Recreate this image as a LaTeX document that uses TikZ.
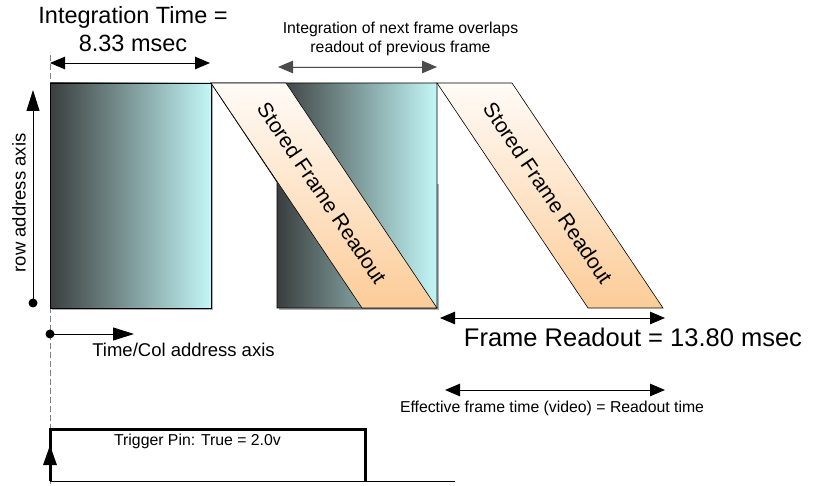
\documentclass[tikz,border=0pt]{standalone}
\usepackage{fontspec}
\setmainfont{Liberation Sans}
\usetikzlibrary{arrows.meta}
\definecolor{gdark}{RGB}{58,62,62}
\definecolor{gcyan}{RGB}{195,247,247}
\definecolor{ptop}{RGB}{255,251,247}
\definecolor{pbot}{RGB}{252,204,152}
\definecolor{dashgray}{RGB}{130,130,130}
\definecolor{shadowgray}{RGB}{175,175,175}
\tikzset{
  txt/.style={inner sep=0pt, outer sep=0pt, align=center},
  dimarrow/.style={line width=0.9pt, {Triangle[length=15pt,width=12.5pt]}-{Triangle[length=15pt,width=12.5pt]}},
  axisarrow/.style={line width=0.9pt, -{Triangle[length=21pt,width=13pt]}},
  blockline/.style={draw=black, line width=0.8pt},
  bandline/.style={draw=black, line width=0.6pt},
  pulse/.style={line width=3pt, line join=miter},
}
\begin{document}
\begin{tikzpicture}[x=1pt,y=-1pt]
\useasboundingbox (0,0) rectangle (817,486);

% dashed time-zero line
\coordinate (dz0) at (50,55);
\coordinate (dz1) at (50,486);
\draw[dashgray, line width=0.8pt, dash pattern=on 6pt off 3pt] (dz0) -- (dz1);

% soft shadows of blocks
\fill[shadowgray] (52,85) rectangle (213,310);
\fill[shadowgray] (279,184) rectangle (439,310);
\fill[shadowgray] (364,310) -- (439,310) -- (439,308) -- (364,308) -- cycle;

% integration block 1
\shade[left color=gdark, right color=gcyan] (50,83) rectangle (211,308);
\draw[blockline] (50,83) rectangle (211,308);

% integration block 2 (partly hidden)
\begin{scope}
  \clip (277,182) -- (211,83) -- (437,83) -- (437,308) -- (277,308) -- cycle;
  \shade[left color=gdark, right color=gcyan] (277,83) rectangle (437,308);
\end{scope}
\draw[blockline] (277,182) -- (211,83) -- (437,83) -- (437,308) -- (277,308) -- cycle;

% readout band 1
\shade[top color=ptop, bottom color=pbot] (211,83) -- (286,83) -- (437,308) -- (362,308) -- cycle;
\draw[bandline] (211,83) -- (286,83) -- (437,308) -- (362,308) -- cycle;
\node[txt, rotate=-56.1, font=\fontsize{21}{25}\selectfont] (band1) at (322,193) {Stored Frame Readout};

% readout band 2
\shade[top color=ptop, bottom color=pbot] (437,83) -- (512,83) -- (663,308) -- (588,308) -- cycle;
\draw[bandline] (437,83) -- (512,83) -- (663,308) -- (588,308) -- cycle;
\node[txt, rotate=-56.1, font=\fontsize{21}{25}\selectfont] (band2) at (548,193) {Stored Frame Readout};

% integration time
\node[txt, anchor=base, font=\fontsize{23.5}{28}\selectfont] (ittitle) at (133,24) {Integration Time =};
\node[txt, anchor=base, font=\fontsize{23.5}{28}\selectfont] (itval) at (133,52) {8.33 msec};
\coordinate (it0) at (50,63);
\coordinate (it1) at (210,63);
\draw[dimarrow] (it0) -- (it1);

% overlap
\node[txt, anchor=base, font=\fontsize{15.8}{19}\selectfont] (ov1) at (400.5,34) {Integration of next frame overlaps};
\node[txt, anchor=base, font=\fontsize{15.8}{19}\selectfont] (ov2) at (400.5,53) {readout of previous frame};
\coordinate (ov0) at (278,67);
\coordinate (ovb) at (437,67);
\draw[dimarrow, draw=black!70, fill=black] (ov0) -- (ovb);

% row address axis
\coordinate (rowbot) at (33,303);
\coordinate (rowtop) at (33,90);
\draw[axisarrow] (rowbot) -- (rowtop);
\fill (rowbot) circle (4.5pt);
\node[txt, rotate=90, font=\fontsize{18.5}{22}\selectfont] (rowlbl) at (19,203) {row address axis};

% time/col axis
\coordinate (tc0) at (50,334);
\coordinate (tc1) at (134,334);
\draw[axisarrow] (tc0) -- (tc1);
\fill (tc0) circle (4.5pt);
\node[txt, anchor=base, font=\fontsize{18.5}{22}\selectfont] (tclbl) at (183.5,357) {Time/Col address axis};

% frame readout
\coordinate (fr0) at (440,318);
\coordinate (fr1) at (665,318);
\draw[dimarrow] (fr0) -- (fr1);
\node[txt, anchor=base, font=\fontsize{25.5}{30}\selectfont] (frlbl) at (633,347) {Frame Readout = 13.80 msec};

% effective frame time
\coordinate (ef0) at (445,390);
\coordinate (ef1) at (665,390);
\draw[dimarrow] (ef0) -- (ef1);
\node[txt, anchor=base, font=\fontsize{15.8}{19}\selectfont] (eflbl) at (552,413) {Effective frame time (video) = Readout time};

% trigger pulse
\coordinate (tb0) at (50,481);
\coordinate (tarr) at (50,445);
\coordinate (ttl) at (50,429);
\coordinate (ttr) at (365,429);
\coordinate (tbr) at (365,481);
\coordinate (tend) at (455,481);
\draw[line width=0.9pt] (tb0) -- (tend);
\draw[pulse] (tb0) -- (ttl) -- (ttr) -- (tbr);
\draw[line width=3pt, -{Triangle[length=20pt,width=13pt]}] (tb0) -- (tarr);
\node[txt, anchor=base, font=\fontsize{15.8}{19}\selectfont] (trig) at (197.5,446) {Trigger Pin: True = 2.0v};
\end{tikzpicture}
\end{document}
